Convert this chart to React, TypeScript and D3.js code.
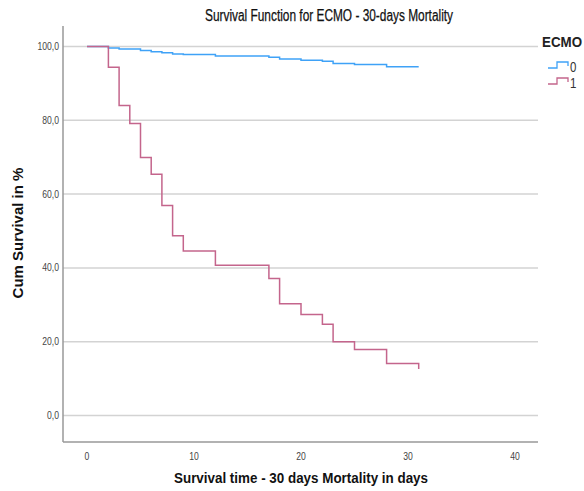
import React from 'react'
import * as d3 from 'd3'

// ECMO = 0
const days0 = [0, 2, 3, 5, 6, 7, 8, 9, 12, 17, 18, 20, 22, 23, 25, 28, 31]
const surv0 = [100, 99.6, 99.3, 98.9, 98.6, 98.3, 98.0, 97.8, 97.4, 97.1, 96.6, 96.3, 96.0, 95.4, 95.1, 94.5, 94.5]
// ECMO = 1
const days1 = [0, 2, 3, 4, 5, 6, 7, 8, 9, 12, 17, 18, 20, 22, 23, 25, 28, 31]
const surv1 = [100, 94.4, 84.0, 79.1, 69.9, 65.4, 56.9, 48.7, 44.6, 40.7, 37.1, 30.3, 27.4, 24.7, 20.0, 17.9, 14.1, 12.6]

const groups = ['0', '1']
const colors = ['#3fa2f7', '#c4658c']
const xTicks = [0, 10, 20, 30, 40]
const yTicks = [0, 20, 40, 60, 80, 100]

const W = 584
const H = 491
const left = 63
const right = 538
const top = 26
const bottom = 442

const font = '"Liberation Sans", Arial, sans-serif'
const comma = d3.formatLocale({ decimal: ',', thousands: '.', grouping: [3], currency: ['', ''] })
const fmt = comma.format('.1f')

// squeeze text horizontally to mimic a narrow font
const sq = (tx: number, ty: number, k = 0.82) => `translate(${tx},${ty}) scale(${k},1)`

export default function App() {
  const x = d3.scaleLinear().domain([0, 40]).range([87, 515])
  const y = d3.scaleLinear().domain([0, 100]).range([415.5, 46.5])

  const series = [
    days0.map((d, i) => [d, surv0[i]]),
    days1.map((d, i) => [d, surv1[i]]),
  ]

  const line = d3.line<number[]>()
    .x(d => x(d[0]))
    .y(d => y(d[1]))
    .curve(d3.curveStepAfter)

  return (
    <svg width={W} height={H} style={{ position: 'absolute', left: 0, top: 0, background: '#fff' }}>
      <rect width={W} height={H} fill="#fff" />
      <text x={329} y={21} textAnchor="middle" fontFamily={font} fontSize={16} fill="#111"
        stroke="#111" strokeWidth={0.25} textLength={248} lengthAdjust="spacingAndGlyphs">
        Survival Function for ECMO - 30-days Mortality
      </text>

      {yTicks.map(t => (
        <g key={t}>
          <line x1={left} x2={right} y1={y(t)} y2={y(t)} stroke="#d3d3d3" strokeWidth={1.5} />
          <text transform={sq(59, y(t) + 3.5)} textAnchor="end" fontFamily={font} fontSize={10.5} fill="#444">
            {fmt(t)}
          </text>
        </g>
      ))}

      <line x1={left} x2={left} y1={top} y2={bottom} stroke="#999" strokeWidth={1.5} />
      <line x1={left} x2={right} y1={bottom} y2={bottom} stroke="#999" strokeWidth={1.5} />

      {xTicks.map(t => (
        <text key={t} transform={sq(x(t), 460)} textAnchor="middle" fontFamily={font} fontSize={10.5} fill="#444">
          {t}
        </text>
      ))}

      {series.map((s, i) => (
        <path key={i} d={line(s) || ''} fill="none" stroke={colors[i]} strokeWidth={1.5} />
      ))}

      <text x={301} y={483} textAnchor="middle" fontFamily={font} fontWeight="bold" fontSize={15} fill="#111"
        textLength={254} lengthAdjust="spacingAndGlyphs">
        Survival time - 30 days Mortality in days
      </text>
      <text transform={`translate(23,233) rotate(-90)`} textAnchor="middle" fontFamily={font} fontWeight="bold" fontSize={15} fill="#111">
        Cum Survival in %
      </text>

      <text x={542} y={47} fontFamily={font} fontWeight="bold" fontSize={14} fill="#222"
        textLength={40} lengthAdjust="spacingAndGlyphs">ECMO</text>
      {groups.map((g, i) => {
        const by = 68 + i * 16
        return (
          <g key={g}>
            <path d={`M548,${by}H557V${by - 6}H568V${by - 2}`} fill="none" stroke={colors[i]} strokeWidth={1.3} />
            <text transform={sq(570, by + 4)} fontFamily={font} fontSize={14} fill="#333">{g}</text>
          </g>
        )
      })}
    </svg>
  )
}
